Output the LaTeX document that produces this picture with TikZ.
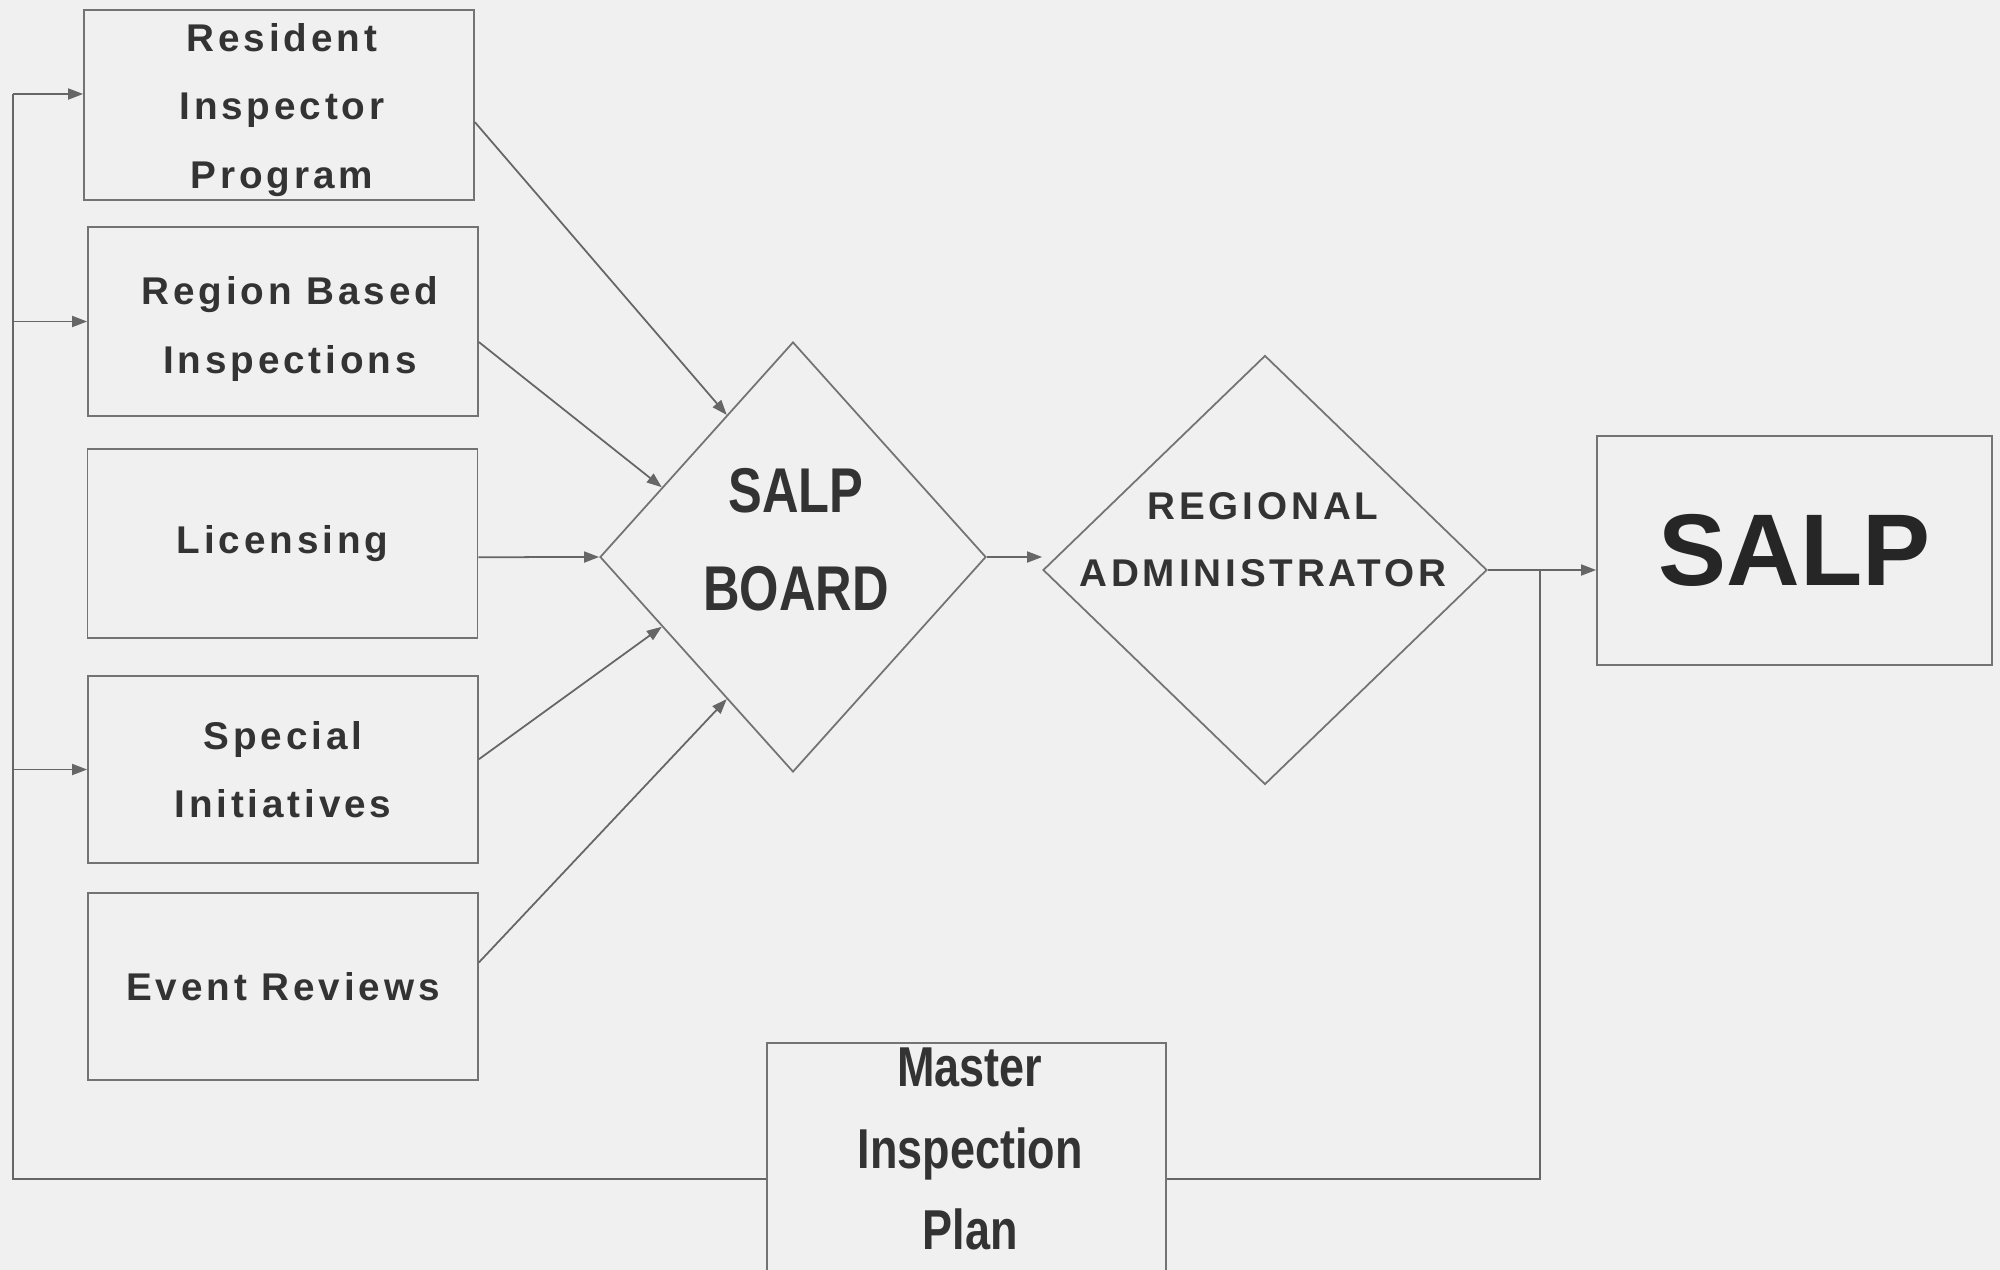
\documentclass[tikz,border=0pt]{standalone}
\usepackage{fontspec}
\setmainfont{Liberation Sans}
\newfontfamily\spaced{Liberation Sans}[LetterSpace=10]
\newfontfamily\narrow{Liberation Sans}[FakeStretch=0.8]
\usetikzlibrary{shapes.geometric,arrows.meta}

\begin{document}
\begin{tikzpicture}[
box/.style={draw=black!55,line width=0.5pt,minimum width=3.9cm,minimum height=1.89cm,inner sep=0pt,align=center,text=black!80,font=\spaced\fontsize{11}{19.5}\selectfont\bfseries},
dia/.style={diamond,draw=black!55,line width=0.5pt,inner sep=0pt},
arr/.style={draw=black!60,line width=0.5pt,-{Triangle[length=1.5mm,width=1.1mm]}},
ln/.style={draw=black!60,line width=0.5pt}
]
\useasboundingbox (0,0) rectangle (20,-12.7);
\fill[black!6] (0,0) rectangle (20,-12.7);
\clip (0,0) rectangle (20,-12.7);
% input boxes
\node[box,minimum height=1.9cm] (res) at (2.79,-1.05) {};
\node[box] (reg) at (2.83,-3.215) {};
\node[box] (lic) at (2.825,-5.435) {Licensing};
\node[box,minimum height=1.87cm] (spe) at (2.83,-7.695) {Special\\Initiatives};
\node[box,minimum height=1.87cm] (eve) at (2.83,-9.865) {Event Reviews};
\node[box,draw=none,minimum size=0pt] (restxt) at (2.82,-1.10) {Resident\\Inspector\\Program};
\node[box,draw=none,minimum size=0pt] (regtxt) at (2.90,-3.29) {Region Based\\Inspections};
% decisions
\node[dia,minimum width=3.86cm,minimum height=4.3cm] (board) at (7.93,-5.57) {};
\node[align=center,text=black!80,font=\narrow\fontsize{18}{28}\selectfont\bfseries] (boardtxt) at (7.96,-5.40) {SALP\\BOARD};
\node[dia,minimum width=4.44cm,minimum height=4.29cm] (radm) at (12.65,-5.70) {};
\node[align=center,text=black!80,font=\spaced\fontsize{11}{19}\selectfont\bfseries] (radmtxt) at (12.63,-5.40) {REGIONAL\\ADMINISTRATOR};
% result and plan
\node[box,minimum width=3.95cm,minimum height=2.29cm,text=black!85,font=\fontsize{29}{29}\selectfont\bfseries] (salp) at (17.945,-5.505) {SALP};
\node[box,minimum width=3.99cm,minimum height=2.72cm] (mas) at (9.665,-11.79) {};
\node[align=center,text=black!80,font=\narrow\fontsize{16}{23.3}\selectfont\bfseries] (mastxt) at (9.70,-11.49) {Master\\Inspection\\Plan};
\coordinate (fb) at (0.13,-0.94);
\coordinate (j) at (15.40,-5.70);

\draw[arr] (res.-5) -- (board.115);
\draw[arr] (reg.-6) -- (board.152);
\draw[arr] (lic.-4) -- (board.west);
\draw[arr] (spe.3) -- (board.208);
\draw[arr] (eve.7) -- (board.245);
\draw[arr] (board.east) -- (board.east -| radm.west);
\draw[arr] (radm.east) -- (radm.east -| salp.west);
% feedback from the plan
\draw[ln] (mas.east) -| (j);
\draw[ln] (mas.west) -| (fb);
\draw[arr] (fb) -- (fb -| res.west);
\foreach \n in {reg,spe}
  \draw[arr] (fb |- \n.west) -- (\n.west);
\end{tikzpicture}
\end{document}
